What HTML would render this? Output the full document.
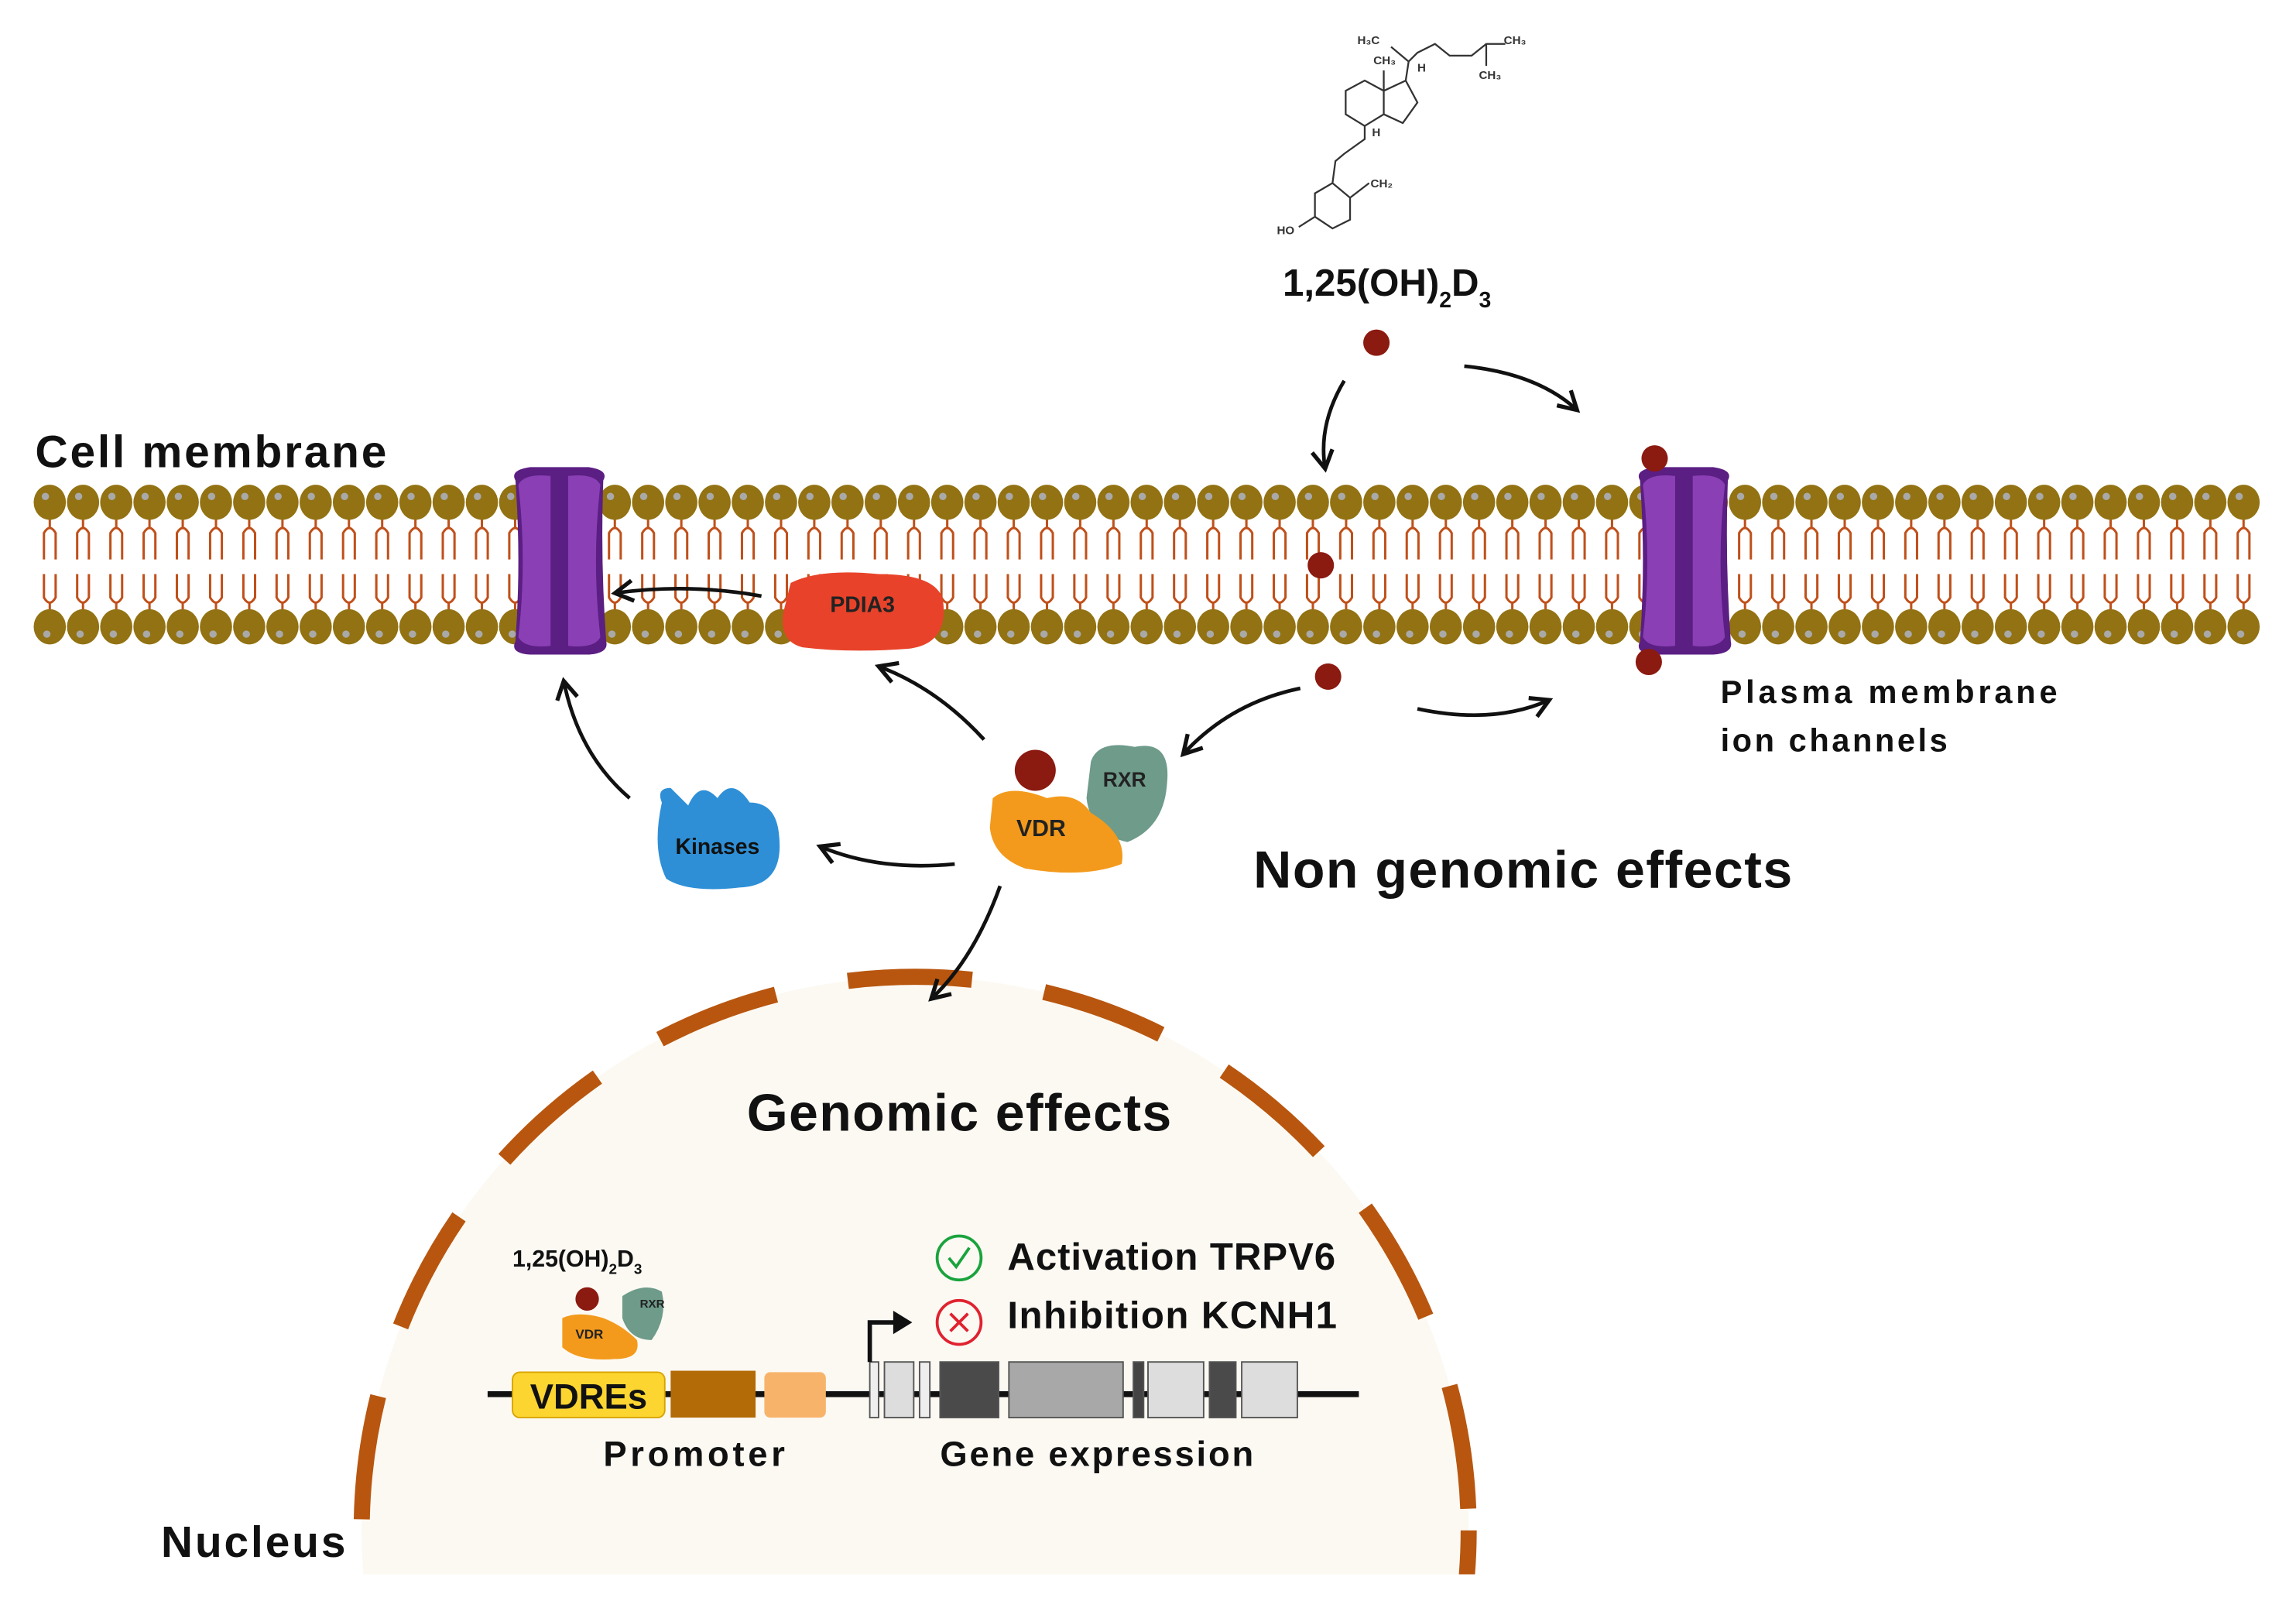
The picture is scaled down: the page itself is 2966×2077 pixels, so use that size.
<!DOCTYPE html>
<html><head><meta charset="utf-8"><style>
html,body{margin:0;padding:0;background:#fff;width:2966px;height:2077px;overflow:hidden}
svg{display:block}
text{font-family:"Liberation Sans","DejaVu Sans",sans-serif;font-weight:bold}
</style></head><body>
<svg id="s" width="2966" height="2077" viewBox="0 0 1568 1098" xmlns="http://www.w3.org/2000/svg">
<defs>
<marker id="ah" viewBox="0 0 10 10" refX="8" refY="5" markerWidth="7" markerHeight="7" orient="auto"><path d="M1,1 L8,5 L1,9" fill="none" stroke="#111" stroke-width="1.6"/></marker>
<clipPath id="cl"><rect x="0" y="0" width="1568" height="1075"/></clipPath>
</defs>
<g clip-path="url(#cl)">
<circle cx="625" cy="1045" r="378" fill="#fcf9f3"/>
<circle cx="625" cy="1045" r="378" fill="none" stroke="#b8560f" stroke-width="11" stroke-dasharray="85 50" stroke-dashoffset="20"/>
</g>
<g id="mem"></g>
<g id="ch1" transform="translate(382,383)">
<path d="M-30,-55 Q-34,-62 -20,-64 L20,-64 Q34,-62 30,-55 Q28,0 32,55 Q34,63 20,64 L-20,64 Q-34,63 -30,55 Q-26,0 -30,-55Z" fill="#5b1e83"/>
<path d="M-28,-52 Q-24,-60 -6,-58 L-6,58 Q-24,60 -28,52 Q-22,0 -28,-52Z" fill="#8a3fb5"/>
<path d="M28,-52 Q24,-60 6,-58 L6,58 Q24,60 28,52 Q22,0 28,-52Z" fill="#8a3fb5"/>
</g>
<use href="#ch1" transform="translate(768,0)"/>
<g fill="#8b1a10">
<circle cx="940" cy="234" r="9"/><circle cx="902" cy="386" r="9"/><circle cx="907" cy="462" r="9"/>
<circle cx="1130" cy="313" r="9"/><circle cx="1126" cy="452" r="9"/>
</g>
<path d="M540,398 Q560,388 600,392 Q640,392 644,410 Q648,440 620,443 Q580,446 548,442 Q532,438 535,418 Z" fill="#e8432a"/>
<text x="589" y="418" font-size="15" text-anchor="middle" fill="#222">PDIA3</text>
<path d="M452,548 Q448,538 458,538 L470,550 Q478,532 490,545 Q500,530 512,548 Q530,548 532,570 Q536,605 505,606 Q470,610 455,600 Q445,580 452,548Z" fill="#2e8fd6"/>
<text x="490" y="583" font-size="15" text-anchor="middle" fill="#111">Kinases</text>
<path d="M745,520 Q750,505 775,510 Q800,505 797,535 Q795,565 770,575 Q745,570 742,545Z" fill="#6e9b8a"/>
<path d="M678,545 Q690,535 715,545 Q735,540 745,555 Q770,570 766,590 Q740,600 700,593 Q678,585 676,565Z" fill="#f39a1c"/>
<circle cx="707" cy="526" r="14" fill="#8b1a10"/>
<text x="768" y="537" font-size="14" text-anchor="middle" fill="#222">RXR</text>
<text x="711" y="571" font-size="16" text-anchor="middle" fill="#222">VDR</text>
<g fill="none" stroke="#111" stroke-width="2.5" marker-end="url(#ah)">
<path d="M918,260 Q900,290 905,320"/>
<path d="M1000,250 Q1050,255 1077,280"/>
<path d="M520,407 Q470,398 420,405"/>
<path d="M430,545 Q395,515 385,465"/>
<path d="M672,505 Q640,470 600,455"/>
<path d="M888,470 Q840,480 808,515"/>
<path d="M968,484 Q1020,495 1058,478"/>
<path d="M652,590 Q600,595 560,578"/>
<path d="M683,605 Q665,655 636,682"/>
</g>
<g fill="none" stroke="#333" stroke-width="1.2">
<path d="M919,62 L932,55 L945,62 L945,78 L932,86 L919,78Z"/>
<path d="M945,62 L960,55 L968,70 L958,84 L945,78"/>
<path d="M945,62 L945,48 M960,55 L962,42 L968,36 L980,30 L990,38 L1005,38 L1015,30 L1028,30"/>
<path d="M1015,30 L1015,45 M962,42 L950,32"/>
<path d="M932,86 L932,95 L918,105 L912,110 L910,125 L898,132 L898,148 L910,156 L922,150 L922,135 L910,125 M922,135 L935,125 M898,148 L887,155"/>
</g>
<g font-size="8" fill="#333">
<text x="927" y="30" font-weight="normal">H₃C</text><text x="938" y="44" font-weight="normal">CH₃</text><text x="968" y="49" font-weight="normal">H</text>
<text x="1027" y="30" font-weight="normal">CH₃</text><text x="1010" y="54" font-weight="normal">CH₃</text><text x="937" y="93" font-weight="normal">H</text>
<text x="936" y="128" font-weight="normal">CH₂</text><text x="872" y="160" font-weight="normal">HO</text>
</g>
<text x="876" y="202" font-size="26" fill="#111">1,25(OH)<tspan font-size="15" dy="8">2</tspan><tspan dy="-8">D</tspan><tspan font-size="15" dy="8">3</tspan></text>
<text x="24" y="319" font-size="31" fill="#111" textLength="240">Cell membrane</text>
<text x="1175" y="480" font-size="22" fill="#111" textLength="230">Plasma membrane</text>
<text x="1175" y="513" font-size="22" fill="#111" textLength="155">ion channels</text>
<text x="856" y="606" font-size="36" fill="#111" textLength="368">Non genomic effects</text>
<text x="510" y="772" font-size="36" fill="#111" textLength="290">Genomic effects</text>
<text x="110" y="1063" font-size="30" fill="#111" textLength="126">Nucleus</text>
<text x="350" y="865" font-size="16" fill="#111">1,25(OH)<tspan font-size="10" dy="5">2</tspan><tspan dy="-5">D</tspan><tspan font-size="10" dy="5">3</tspan></text>
<path d="M425,885 Q440,875 452,882 Q456,900 445,915 Q430,915 425,900Z" fill="#6e9b8a"/>
<path d="M384,900 Q395,895 412,900 Q425,905 435,915 Q438,928 420,928 Q395,930 384,920Z" fill="#f39a1c"/>
<circle cx="401" cy="887" r="8" fill="#8b1a10"/>
<text x="437" y="893" font-size="8" fill="#222">RXR</text>
<text x="393" y="914" font-size="9" fill="#222">VDR</text>
<line x1="333" y1="952" x2="928" y2="952" stroke="#111" stroke-width="4"/>
<rect x="350" y="937" width="104" height="31" rx="5" fill="#fcd531" stroke="#d9a400"/>
<text x="402" y="962" font-size="24" text-anchor="middle" fill="#111">VDREs</text>
<rect x="458" y="936" width="58" height="32" fill="#b36b07"/>
<rect x="522" y="937" width="42" height="31" rx="4" fill="#f8b36a"/>
<g stroke="#555" stroke-width="1">
<rect x="594" y="930" width="6" height="38" fill="#eee"/>
<rect x="604" y="930" width="20" height="38" fill="#ddd"/>
<rect x="628" y="930" width="7" height="38" fill="#eee"/>
<rect x="642" y="930" width="40" height="38" fill="#4a4a4a"/>
<rect x="689" y="930" width="78" height="38" fill="#a8a8a8"/>
<rect x="774" y="930" width="7" height="38" fill="#444"/>
<rect x="784" y="930" width="38" height="38" fill="#ddd"/>
<rect x="826" y="930" width="18" height="38" fill="#4a4a4a"/>
<rect x="848" y="930" width="38" height="38" fill="#ddd"/>
</g>
<path d="M594,930 L594,903 L612,903" fill="none" stroke="#111" stroke-width="3"/>
<path d="M610,895 L623,903 L610,911Z" fill="#111"/>
<circle cx="655" cy="859" r="15" fill="none" stroke="#1aa33d" stroke-width="2"/>
<path d="M648,859 L653,865 L662,852" fill="none" stroke="#1aa33d" stroke-width="2"/>
<circle cx="655" cy="903" r="15" fill="none" stroke="#e0222f" stroke-width="2"/>
<path d="M649,897 L661,909 M661,897 L649,909" stroke="#e0222f" stroke-width="2"/>
<text x="688" y="867" font-size="26" fill="#111" textLength="224">Activation TRPV6</text>
<text x="688" y="907" font-size="26" fill="#111" textLength="225">Inhibition KCNH1</text>
<text x="412" y="1001" font-size="24" fill="#111" textLength="124">Promoter</text>
<text x="642" y="1001" font-size="24" fill="#111" textLength="214">Gene expression</text>
</svg>
<script>
(function(){
var g=document.getElementById('mem'),h='';
for(var x=34;x<1550;x+=22.7){
 h+='<path d="M'+x+',352 L'+x+',360 M'+(x-4)+',382 L'+(x-4)+',364 Q'+x+',357 '+(x+4)+',364 L'+(x+4)+',382" fill="none" stroke="#c0501a" stroke-width="1.6"/>';
 h+='<path d="M'+x+',420 L'+x+',412 M'+(x-4)+',392 L'+(x-4)+',408 Q'+x+',415 '+(x+4)+',408 L'+(x+4)+',392" fill="none" stroke="#c0501a" stroke-width="1.6"/>';
 h+='<ellipse cx="'+x+'" cy="343" rx="11" ry="12" fill="#927212"/><circle cx="'+(x-3)+'" cy="339" r="2.5" fill="#a9a9a9"/>';
 h+='<ellipse cx="'+x+'" cy="428" rx="11" ry="12" fill="#927212"/><circle cx="'+(x-2)+'" cy="433" r="2.5" fill="#a9a9a9"/>';
}
g.innerHTML=h;
})();
</script>
</body></html>
